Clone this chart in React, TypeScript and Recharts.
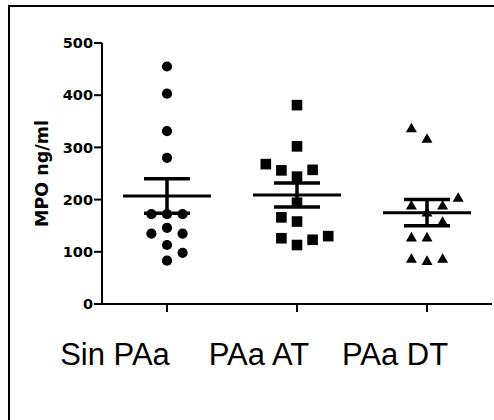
import React from 'react';
import { ComposedChart, ErrorBar, Scatter, XAxis, YAxis } from 'recharts';

// groups along the x axis
const categories = ['Sin PAa', 'PAa AT', 'PAa DT'];
const yTicks = [0, 100, 200, 300, 400, 500];

// individual values (ng/ml) and the column slot each dot sits in
const sinPAaValues = [455, 403, 331, 280, 172, 172, 172, 146, 135, 135, 113, 98, 83];
const sinPAaSlots = [0, 0, 0, 0, -1, 0, 1, 0, -1, 1, 0, 1, 0];

const paaATValues = [381, 302, 268, 256, 257, 244, 194, 166, 158, 126, 113, 123, 130];
const paaATSlots = [0, 0, -2, -1, 1, 0, 0, -1, 0, -1, 0, 1, 2];

const paaDTValues = [338, 318, 205, 190, 190, 177, 159, 129, 129, 88, 84, 88];
const paaDTSlots = [-1, 0, 2, -1, 1, 0, 1, -1, 0, -1, 0, 1];

// mean and SEM per group
const means = [207, 209, 175];
const sems = [33, 23, 25];

const JITTER = 0.12;
const LABEL_DX = [-52, -38, -32];

const toPoints = (values: number[], slots: number[], group: number) =>
  values.map((v, i) => ({ x: group + 1 + slots[i] * JITTER, y: v }));

const summary = means.map((m, i) => ({ x: i + 1, y: m, sem: sems[i] }));

const Circle = (p: any) => <circle cx={p.cx} cy={p.cy} r={5.1} fill="#000" />;
const Square = (p: any) => <rect x={p.cx - 5.3} y={p.cy - 5.3} width={10.6} height={10.6} fill="#000" />;
const Triangle = (p: any) => (
  <polygon
    points={`${p.cx - 5.5},${p.cy + 4.8} ${p.cx + 5.5},${p.cy + 4.8} ${p.cx},${p.cy - 4.8}`}
    fill="#000"
  />
);
const MeanLine = (p: any) => (
  <line x1={p.cx - 44} x2={p.cx + 44} y1={p.cy} y2={p.cy} stroke="#000" strokeWidth={3} />
);

const CategoryTick = (props: any) => {
  const idx = Math.round(props.payload.value) - 1;
  return (
    <text
      x={props.x + (LABEL_DX[idx] ?? 0)}
      y={props.y + 51}
      textAnchor="middle"
      fontFamily="'Liberation Sans', Arial, sans-serif"
      fontSize={31}
      fill="#000"
    >
      {categories[idx]}
    </text>
  );
};

export default function App() {
  return (
    <div style={{ position: 'absolute', left: 0, top: 0, width: 494, height: 420, background: '#fff', overflow: 'hidden' }}>
      <div
        style={{
          position: 'absolute',
          left: 8,
          top: 5,
          width: 486,
          height: 415,
          borderTop: '2px solid #000',
          borderLeft: '2px solid #000',
        }}
      />
      <ComposedChart
        width={494}
        height={420}
        margin={{ top: 43, right: 2, bottom: 0, left: 0 }}
        style={{ position: 'absolute', left: 0, top: 0 }}
      >
        <XAxis
          type="number"
          dataKey="x"
          domain={[0.5, 3.5]}
          ticks={[1, 2, 3]}
          allowDataOverflow
          axisLine={{ stroke: '#000', strokeWidth: 2 }}
          tickLine={{ stroke: '#000', strokeWidth: 2 }}
          tickSize={8}
          tick={(props: any) => <CategoryTick {...props} />}
          height={116}
        />
        <YAxis
          type="number"
          dataKey="y"
          domain={[0, 500]}
          ticks={yTicks}
          width={102}
          axisLine={{ stroke: '#000', strokeWidth: 2 }}
          tickLine={{ stroke: '#000', strokeWidth: 2 }}
          tickSize={8}
          tickMargin={1}
          tick={{ fill: '#000', fontSize: 14.5, fontWeight: 'bold', fontFamily: "'DejaVu Sans', Verdana, sans-serif" }}
          label={{
            value: 'MPO ng/ml',
            angle: -90,
            position: 'center',
            dx: -9,
            style: { fill: '#000', fontSize: 17.5, fontWeight: 'bold', fontFamily: "'DejaVu Sans', Verdana, sans-serif" },
          }}
        />
        <Scatter data={toPoints(sinPAaValues, sinPAaSlots, 0)} shape={Circle} isAnimationActive={false} />
        <Scatter data={toPoints(paaATValues, paaATSlots, 1)} shape={Square} isAnimationActive={false} />
        <Scatter data={toPoints(paaDTValues, paaDTSlots, 2)} shape={Triangle} isAnimationActive={false} />
        <Scatter data={summary} shape={MeanLine} isAnimationActive={false}>
          <ErrorBar dataKey="sem" direction="y" width={23} stroke="#000" strokeWidth={3.5} />
        </Scatter>
      </ComposedChart>
    </div>
  );
}
